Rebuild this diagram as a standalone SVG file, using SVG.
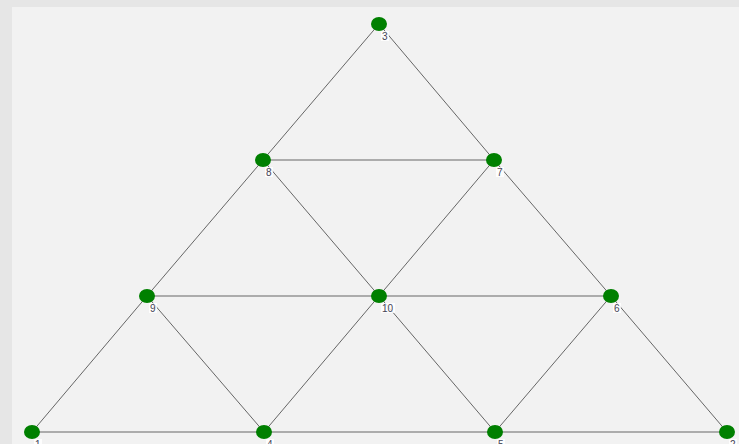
<svg xmlns="http://www.w3.org/2000/svg" width="739" height="444" viewBox="0 0 739 444">
<style>
.e{stroke:#666;stroke-width:1;fill:none}
.n{fill:#008000}
.lb{fill:#fff;fill-opacity:0.8}
.t{font-family:"Liberation Sans",Arial,sans-serif;font-size:10px;fill:#445}
</style>
<rect width="739" height="444" fill="#e6e6e6"/>
<rect x="12" y="7" width="727" height="437" fill="#f2f2f2"/>
<g id="edges">
<line class="e" x1="379" y1="24" x2="263" y2="160"/>
<line class="e" x1="379" y1="24" x2="494" y2="160"/>
<line class="e" x1="263" y1="160" x2="494" y2="160"/>
<line class="e" x1="263" y1="160" x2="147" y2="296"/>
<line class="e" x1="263" y1="160" x2="379" y2="296"/>
<line class="e" x1="494" y1="160" x2="379" y2="296"/>
<line class="e" x1="494" y1="160" x2="611" y2="296"/>
<line class="e" x1="147" y1="296" x2="379" y2="296"/>
<line class="e" x1="379" y1="296" x2="611" y2="296"/>
<line class="e" x1="147" y1="296" x2="32" y2="432"/>
<line class="e" x1="147" y1="296" x2="264" y2="432"/>
<line class="e" x1="379" y1="296" x2="264" y2="432"/>
<line class="e" x1="379" y1="296" x2="495" y2="432"/>
<line class="e" x1="611" y1="296" x2="495" y2="432"/>
<line class="e" x1="611" y1="296" x2="727" y2="432"/>
<line class="e" x1="32" y1="432" x2="264" y2="432"/>
<line class="e" x1="264" y1="432" x2="495" y2="432"/>
<line class="e" x1="495" y1="432" x2="727" y2="432"/>
</g>
<g id="n3"><ellipse class="n" cx="379" cy="24" rx="8" ry="7"/><rect class="lb" x="381" y="31" width="8" height="10"/><text class="t" x="382" y="40">3</text></g>
<g id="n8"><ellipse class="n" cx="263" cy="160" rx="8" ry="7"/><rect class="lb" x="265" y="167" width="8" height="10"/><text class="t" x="266" y="176">8</text></g>
<g id="n7"><ellipse class="n" cx="494" cy="160" rx="8" ry="7"/><rect class="lb" x="496" y="167" width="8" height="10"/><text class="t" x="497" y="176">7</text></g>
<g id="n9"><ellipse class="n" cx="147" cy="296" rx="8" ry="7"/><rect class="lb" x="149" y="303" width="8" height="10"/><text class="t" x="150" y="312">9</text></g>
<g id="n10"><ellipse class="n" cx="379" cy="296" rx="8" ry="7"/><rect class="lb" x="381" y="303" width="14" height="10"/><text class="t" x="382" y="312">10</text></g>
<g id="n6"><ellipse class="n" cx="611" cy="296" rx="8" ry="7"/><rect class="lb" x="613" y="303" width="8" height="10"/><text class="t" x="614" y="312">6</text></g>
<g id="n1"><ellipse class="n" cx="32" cy="432" rx="8" ry="7"/><rect class="lb" x="34" y="439" width="8" height="10"/><text class="t" x="35" y="448">1</text></g>
<g id="n4"><ellipse class="n" cx="264" cy="432" rx="8" ry="7"/><rect class="lb" x="266" y="439" width="8" height="10"/><text class="t" x="267" y="448">4</text></g>
<g id="n5"><ellipse class="n" cx="495" cy="432" rx="8" ry="7"/><rect class="lb" x="497" y="439" width="8" height="10"/><text class="t" x="498" y="448">5</text></g>
<g id="n2"><ellipse class="n" cx="727" cy="432" rx="8" ry="7"/><rect class="lb" x="729" y="439" width="8" height="10"/><text class="t" x="730" y="448">2</text></g>
</svg>
